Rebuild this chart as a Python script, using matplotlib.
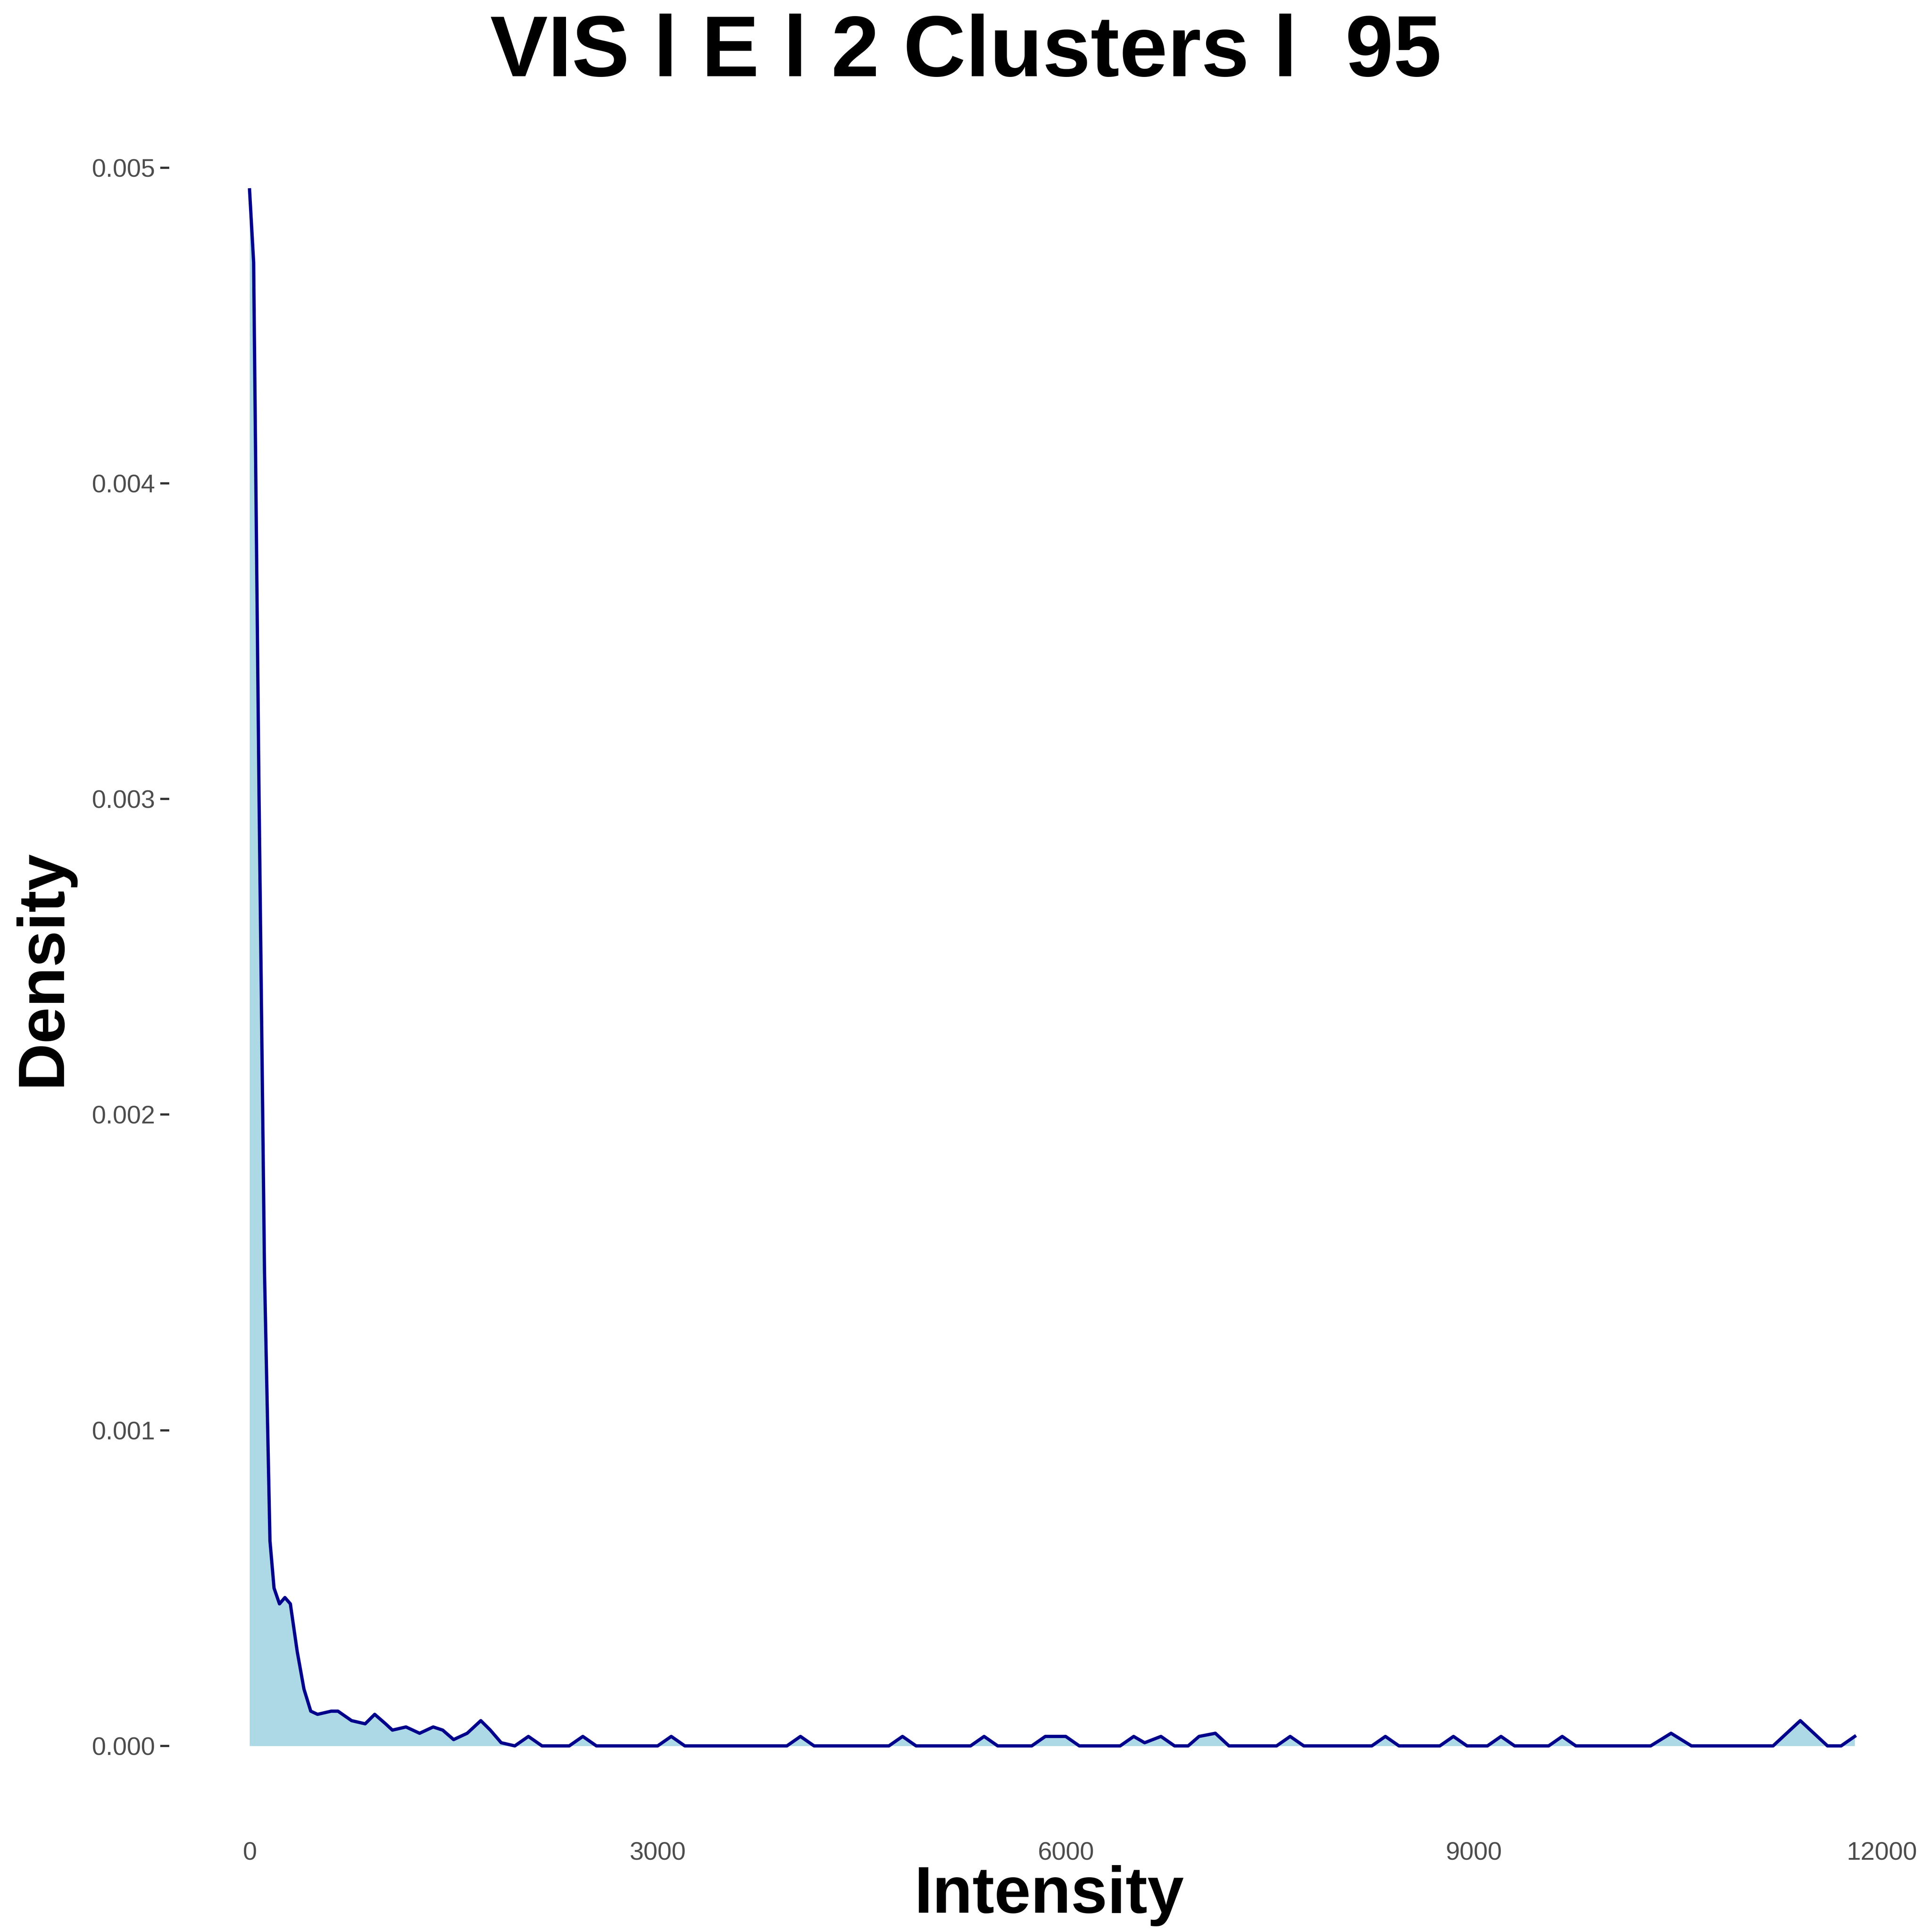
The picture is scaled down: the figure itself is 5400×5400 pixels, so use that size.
import matplotlib
matplotlib.use("Agg")
import matplotlib.pyplot as plt

intensity = [0, 30, 70, 110, 150, 180, 220, 260, 300, 350, 400, 450, 500, 600, 650, 750, 850, 920, 1000,
             1050, 1150, 1250, 1350, 1420, 1500, 1600, 1700, 1770, 1850, 1950,
             2050, 2150, 2350, 2450, 2550, 3000, 3100, 3200, 3950, 4050, 4150, 4700, 4800, 4900,
             5300, 5400, 5500, 5750, 5850, 5920, 6000, 6100, 6400, 6500, 6580, 6700, 6800, 6900,
             6980, 7100, 7200, 7550, 7650, 7750, 8250, 8350, 8450, 8750, 8850, 8950, 9100, 9200, 9300,
             9550, 9650, 9750, 10300, 10450, 10600, 11200, 11400, 11600, 11700, 11800]
density = [0.00493, 0.0047, 0.003, 0.0015, 0.00065, 0.0005, 0.00045, 0.00047, 0.00045, 0.0003, 0.00018,
           0.00011, 0.0001, 0.00011, 0.00011, 0.00008, 0.00007, 0.0001, 0.00007,
           0.00005, 0.00006, 0.00004, 0.00006, 0.00005, 0.00002, 0.00004, 0.00008, 0.00005, 0.00001, 0.0,
           0.00003, 0.0, 0.0, 0.00003, 0.0, 0.0, 0.00003, 0.0, 0.0, 0.00003, 0.0, 0.0, 0.00003, 0.0,
           0.0, 0.00003, 0.0, 0.0, 0.00003, 0.00003, 0.00003, 0.0, 0.0, 0.00003, 0.00001, 0.00003, 0.0, 0.0,
           0.00003, 0.00004, 0.0, 0.0, 0.00003, 0.0, 0.0, 0.00003, 0.0, 0.0, 0.00003, 0.0, 0.0, 0.00003, 0.0,
           0.0, 0.00003, 0.0, 0.0, 0.00004, 0.0, 0.0, 0.00008, 0.0, 0.0, 0.00003]

xticks = [0, 3000, 6000, 9000, 12000]
yticks = [0.000, 0.001, 0.002, 0.003, 0.004, 0.005]

plt.rcParams['font.family'] = ['Liberation Sans', 'DejaVu Sans']
fig = plt.figure(figsize=(18, 18), dpi=300)
ax = fig.add_axes([136/1552, 1-1465/1552, (1550-136)/1552, (1465-90)/1552])
ax.fill_between(intensity, density, 0, color='#add8e6', lw=0)
ax.plot(intensity, density, color='#00008b', lw=2.2)
ax.set_ylim(-0.00493*0.05, 0.00493*1.05)
ax.set_xlim(-590, 12350)
ax.set_xticks(xticks)
ax.set_xticklabels([str(t) for t in xticks])
ax.set_yticks(yticks)
ax.set_yticklabels([f"{t:.3f}" for t in yticks])
for s in ax.spines.values():
    s.set_visible(False)
ax.tick_params(axis='x', length=0, labelsize=17, labelcolor='#4d4d4d', pad=12)
ax.tick_params(axis='y', length=6, width=1.5, labelsize=17, labelcolor='#4d4d4d', color='#333333')
ax.set_xlabel('Intensity', fontsize=44, fontweight='bold', labelpad=0)
ax.set_ylabel('Density', fontsize=44, fontweight='bold', labelpad=12)
fig.suptitle('VIS l E l 2 Clusters l  95', fontsize=58, fontweight='bold', y=0.993)
fig.savefig('out.png', dpi=300)
